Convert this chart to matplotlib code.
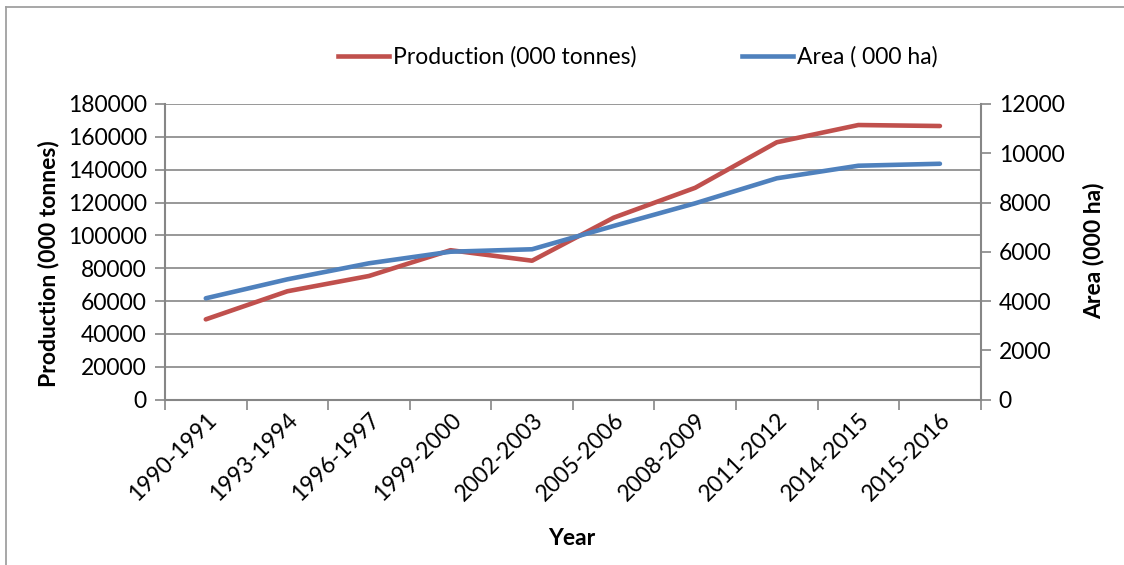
import matplotlib
matplotlib.use('Agg')
import matplotlib.pyplot as plt
from matplotlib.lines import Line2D

plt.rcParams['font.family'] = ['Lato', 'DejaVu Sans']

years = ['1990-1991', '1993-1994', '1996-1997', '1999-2000', '2002-2003',
         '2005-2006', '2008-2009', '2011-2012', '2014-2015', '2015-2016']
production = [48900, 66000, 75300, 91000, 84600,
              110800, 129000, 156700, 167200, 166600]
area = [4115, 4885, 5535, 6005, 6105,
        7050, 7970, 8985, 9495, 9575]

RED = '#C0504D'
BLUE = '#4F81BD'
GRID = '#868686'
FS = 16.5

W, H = 1124, 565
fig = plt.figure(figsize=(W / 100, H / 100), dpi=100)

# chart area border (only left and top edges are visible in the crop)
fig.add_artist(Line2D([6.5 / W, 6.5 / W], [0, 1 - 6.5 / H], color='#A0A0A0', lw=1.3))
fig.add_artist(Line2D([6.5 / W, 1], [1 - 6.5 / H, 1 - 6.5 / H], color='#A0A0A0', lw=1.3))

ax = fig.add_axes([165 / W, 1 - 399.7 / H, 815.7 / W, 295.7 / H])
ax2 = ax.twinx()

x = list(range(len(years)))
ax.plot(x, production, color=RED, lw=3.3, solid_capstyle='round', zorder=3)
ax2.plot(x, area, color=BLUE, lw=3.3, solid_capstyle='round', zorder=3)

ax.set_xlim(-0.5, len(years) - 0.5)
ax.set_ylim(0, 180000)
ax.set_yticks(range(0, 180001, 20000))
ax2.set_ylim(0, 12000)
ax2.set_yticks(range(0, 12001, 2000))

ax.grid(axis='y', color=GRID, lw=1.2)
ax.set_axisbelow(True)

ax.set_xticks([i - 0.5 for i in range(len(years) + 1)])
ax.set_xticklabels([])
ax.set_xticks(x, minor=True)
ax.set_xticklabels(years, minor=True, rotation=45, ha='right',
                   rotation_mode='anchor', fontsize=FS)
ax.tick_params(axis='x', which='minor', length=0, pad=7)
ax.tick_params(axis='x', which='major', length=7, width=1.2, color=GRID)
ax.tick_params(axis='y', length=7, width=1.2, color=GRID, labelsize=FS, pad=6)
ax2.tick_params(axis='y', length=7, width=1.2, color=GRID, labelsize=FS, pad=6)

for a in (ax, ax2):
    for s in a.spines.values():
        s.set_visible(False)
ax.spines['left'].set_visible(True)
ax.spines['bottom'].set_visible(True)
ax2.spines['right'].set_visible(True)
for s in (ax.spines['left'], ax.spines['bottom'], ax2.spines['right']):
    s.set_color(GRID)
    s.set_linewidth(1.5)

ax.set_ylabel('Production (000 tonnes)', fontsize=FS, fontweight='bold')
ax.yaxis.set_label_coords(-0.130, 0.459)
ax2.set_ylabel('Area (000 ha)', fontsize=FS, fontweight='bold')
ax2.yaxis.set_label_coords(1.125, 0.503)
ax.set_xlabel('Year', fontsize=FS, fontweight='bold')
ax.xaxis.set_label_coords(0.499, -0.435)

handles = [Line2D([], [], color=RED, lw=3.3), Line2D([], [], color=BLUE, lw=3.3)]
fig.legend(handles, ['Production (000 tonnes)', 'Area ( 000 ha)'],
           loc='center', bbox_to_anchor=(638 / W, 1 - 57 / H), ncol=2,
           frameon=False, fontsize=FS, handlelength=2.2, handletextpad=0.2,
           columnspacing=4.6)

fig.savefig('out.png', dpi=100)
